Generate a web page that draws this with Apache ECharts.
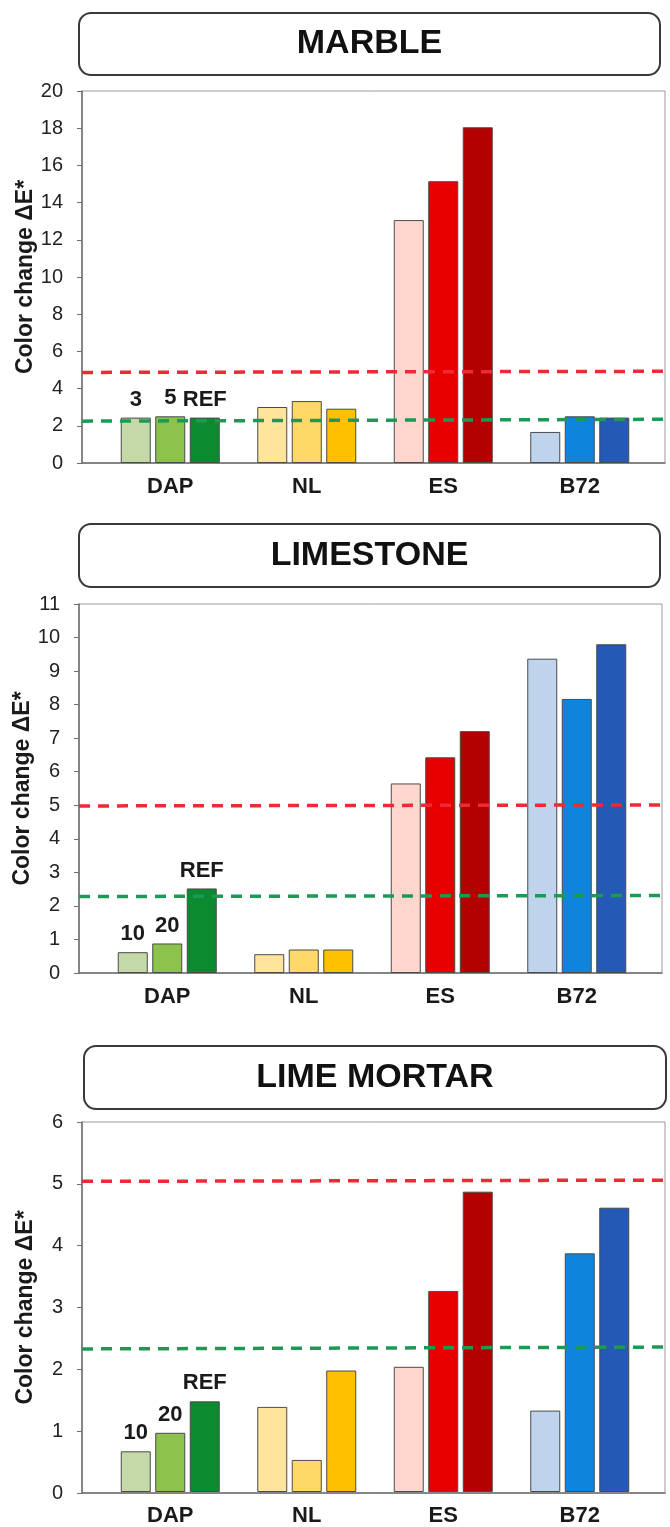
<!DOCTYPE html>
<html>
<head>
<meta charset="utf-8">
<script src="https://cdn.jsdelivr.net/npm/echarts@6/dist/echarts.min.js"></script>
<style>
html,body{margin:0;padding:0;background:#fff;}
#chart{width:670px;height:1527px;}
</style>
</head>
<body>
<div id="chart"></div>
<script>
// ---------- DATA ----------
const categories = ['DAP', 'NL', 'ES', 'B72'];

const marbleTitle = 'MARBLE';
const marbleLevel1 = [2.44, 3.01, 13.06, 1.67];
const marbleLevel2 = [2.51, 3.33, 15.15, 2.51];
const marbleLevel3 = [2.44, 2.92, 18.05, 2.44];
const marbleDapLabels = ['3', '5', 'REF'];
const marbleRedLine = [4.87, 4.93];
const marbleGreenLine = [2.25, 2.35];
const marbleAxis = [0, 20, 2];

const limestoneTitle = 'LIMESTONE';
const limestoneLevel1 = [0.62, 0.56, 5.65, 9.37];
const limestoneLevel2 = [0.88, 0.70, 6.43, 8.17];
const limestoneLevel3 = [2.52, 0.70, 7.21, 9.80];
const limestoneDapLabels = ['10', '20', 'REF'];
const limestoneRedLine = [4.98, 5.01];
const limestoneGreenLine = [2.28, 2.31];
const limestoneAxis = [0, 11, 1];

const mortarTitle = 'LIME MORTAR';
const mortarLevel1 = [0.66, 1.38, 2.03, 1.32];
const mortarLevel2 = [0.96, 0.52, 3.26, 3.87];
const mortarLevel3 = [1.47, 1.97, 4.87, 4.61];
const mortarDapLabels = ['10', '20', 'REF'];
const mortarRedLine = [5.04, 5.06];
const mortarGreenLine = [2.33, 2.36];
const mortarAxis = [0, 6, 1];

const yAxisName = 'Color change ΔE*';

// ---------- STYLE ----------
const palette = [
  ['#c4d9a7', '#8dc24d', '#0c8a30'],
  ['#ffe59c', '#ffd866', '#ffc000'],
  ['#ffd6cd', '#e80000', '#b30000'],
  ['#bdd4ec', '#0f84dc', '#2459b5']
];
const FONT = '"Liberation Sans", Arial, Helvetica, sans-serif';
const H = 1527, W = 670;

const panels = [
  { title: marbleTitle, levels: [marbleLevel1, marbleLevel2, marbleLevel3], labels: marbleDapLabels,
    red: marbleRedLine, green: marbleGreenLine, axis: marbleAxis,
    frame: { l: 82, r: 665, t: 91, b: 463 }, box: { x: 79, y: 13, w: 581, h: 62 } },
  { title: limestoneTitle, levels: [limestoneLevel1, limestoneLevel2, limestoneLevel3], labels: limestoneDapLabels,
    red: limestoneRedLine, green: limestoneGreenLine, axis: limestoneAxis,
    frame: { l: 79, r: 662, t: 604, b: 973 }, box: { x: 79, y: 524, w: 581, h: 63 } },
  { title: mortarTitle, levels: [mortarLevel1, mortarLevel2, mortarLevel3], labels: mortarDapLabels,
    red: mortarRedLine, green: mortarGreenLine, axis: mortarAxis,
    frame: { l: 82, r: 665, t: 1122, b: 1493 }, box: { x: 84, y: 1046, w: 582, h: 63 } }
];

const grid = [], xAxis = [], yAxis = [], series = [], graphic = [];

panels.forEach((p, pi) => {
  const f = p.frame;
  const frameIdx = pi * 2, barIdx = pi * 2 + 1;
  grid.push({ left: f.l, right: W - f.r, top: f.t, bottom: H - f.b,
    show: true, borderColor: '#9a9a9a', borderWidth: 1, backgroundColor: 'transparent' });
  grid.push({ left: f.l + 20, right: W - f.r + 17, top: f.t, bottom: H - f.b });

  xAxis.push({ gridIndex: frameIdx, type: 'value', min: 0, max: 1, show: true,
    axisLine: { show: true, lineStyle: { color: '#6e6e6e', width: 1.5 } },
    axisTick: { show: false }, axisLabel: { show: false }, splitLine: { show: false } });
  xAxis.push({ gridIndex: barIdx, type: 'category', data: categories,
    axisLine: { show: false }, axisTick: { show: false },
    axisLabel: { fontFamily: FONT, fontWeight: 'bold', fontSize: 22, color: '#1a1a1a', margin: 13 } });

  yAxis.push({ gridIndex: frameIdx, type: 'value', min: p.axis[0], max: p.axis[1], interval: p.axis[2],
    name: yAxisName, nameLocation: 'middle', nameGap: 45, nameMoveOverlap: false,
    nameTextStyle: { fontFamily: FONT, fontWeight: 'bold', fontSize: 23, color: '#1a1a1a' },
    axisLine: { show: true, lineStyle: { color: '#6e6e6e', width: 1.5 } },
    axisTick: { show: true, inside: false, length: 5, lineStyle: { color: '#6e6e6e' } },
    axisLabel: { fontFamily: FONT, fontSize: 20, color: '#222', margin: 19 },
    splitLine: { show: false } });
  yAxis.push({ gridIndex: barIdx, type: 'value', min: p.axis[0], max: p.axis[1], interval: p.axis[2], show: false,
    splitLine: { show: false } });

  p.levels.forEach((vals, li) => {
    series.push({
      type: 'bar', xAxisIndex: barIdx, yAxisIndex: barIdx,
      barWidth: 30, barGap: '15%', z: 2,
      data: vals.map((v, ci) => ({
        value: v,
        itemStyle: { color: palette[ci][li], borderColor: '#4a4a4a', borderWidth: 1 },
        label: { show: ci === 0, position: 'top', distance: 7, formatter: p.labels[li],
          fontFamily: FONT, fontWeight: 'bold', fontSize: 22, color: '#1a1a1a' }
      }))
    });
  });

  [[p.red, '#ef2a36'], [p.green, '#1c9a55']].forEach(([ln, col]) => {
    series.push({
      type: 'line', xAxisIndex: frameIdx, yAxisIndex: frameIdx, symbol: 'none', silent: true, z: 5,
      lineStyle: { color: col, width: 3.5, type: [11, 8] },
      data: [[0, ln[0]], [1, ln[1]]]
    });
  });

  graphic.push({ type: 'rect', shape: { x: p.box.x, y: p.box.y, width: p.box.w, height: p.box.h, r: 12 },
    style: { fill: '#fff', stroke: '#3a3a3a', lineWidth: 2 } });
  graphic.push({ type: 'text', x: p.box.x + p.box.w / 2, y: p.box.y + p.box.h / 2,
    style: { text: p.title, fontFamily: FONT, fontWeight: 'bold', fontSize: 34, fill: '#111',
      align: 'center', verticalAlign: 'middle' } });
});

const chart = echarts.init(document.getElementById('chart'), null, { renderer: 'canvas' });
chart.setOption({
  animation: false,
  backgroundColor: '#fff',
  grid, xAxis, yAxis, series, graphic
});
</script>
</body>
</html>
